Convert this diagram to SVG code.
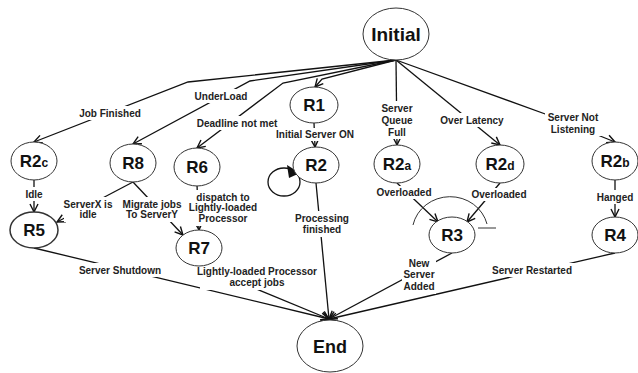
<svg xmlns="http://www.w3.org/2000/svg" width="638" height="373" viewBox="0 0 638 373">
<style>
.node{fill:#fff;stroke:#333;stroke-width:1}
.nt{font-family:"Liberation Sans",Arial,sans-serif;font-weight:bold;font-size:17px;fill:#111;text-anchor:middle}
.sub{font-size:12px}
.el{font-family:"Liberation Sans",Arial,sans-serif;font-weight:bold;font-size:10px;fill:#222;text-anchor:middle}
.c{fill:none;stroke:#111;stroke-width:1.3;marker-end:url(#arr)}
.bg{fill:#fff}
</style>
<defs>
<marker id="arr" markerUnits="userSpaceOnUse" markerWidth="12" markerHeight="12" refX="9" refY="5" orient="auto">
<path d="M1,1 L9,5 L1,9" fill="none" stroke="#111" stroke-width="1.4"/>
</marker>
</defs>
<g id="connectors">
<path class="c" d="M396,60 L188,82 L34,142"/>
<path class="c" d="M396,60 L250,81 L133,144"/>
<path class="c" d="M396,60 L283,83 L197,148"/>
<path class="c" d="M396,60 L322,79 L315,87"/>
<path class="c" d="M396,60 L397,145"/>
<path class="c" d="M396,60 L500,145"/>
<path class="c" d="M396,60 L548,115 L615,142"/>
<path class="c" d="M314,123 L315,147"/>
<path class="c" d="M316,183 L329,319"/>
<path class="c" d="M34,180 L34,212"/>
<path class="c" d="M133,182 L57,222"/>
<path class="c" d="M133,182 L183,235"/>
<path class="c" d="M197,185 L199,230"/>
<path class="c" d="M201,266 L329,319"/>
<path class="c" d="M34,248 L329,319"/>
<path class="c" d="M397,183 L438,222"/>
<path class="c" d="M500,183 L467,222"/>
<path class="c" d="M615,180 L615,217"/>
<path class="c" d="M452,253 L329,319"/>
<path class="c" d="M615,253 L329,319"/>
<ellipse cx="284" cy="182" rx="16" ry="14" fill="none" stroke="#111" stroke-width="1.3"/>
<path d="M287,165 L300,173 L289,178 Z" fill="#111"/>
<path d="M413,225 A38,36 0 0 1 487,224" fill="none" stroke="#333" stroke-width="1"/>
<path d="M478,228 L496,228" fill="none" stroke="#333" stroke-width="1"/>
</g>
<g id="label-bg">
<rect class="bg" x="78" y="106" width="64" height="14"/>
<rect class="bg" x="192" y="89" width="58" height="14"/>
<rect class="bg" x="192" y="116" width="90" height="14"/>
<rect class="bg" x="271" y="128" width="88" height="13"/>
<rect class="bg" x="378" y="101" width="38" height="38"/>
<rect class="bg" x="437" y="113" width="70" height="14"/>
<rect class="bg" x="545" y="110" width="58" height="26"/>
<rect class="bg" x="24" y="187" width="20" height="14"/>
<rect class="bg" x="64" y="197" width="50" height="25"/>
<rect class="bg" x="121" y="197" width="62" height="25"/>
<rect class="bg" x="189" y="190" width="68" height="36"/>
<rect class="bg" x="294" y="211" width="56" height="26"/>
<rect class="bg" x="375" y="186" width="58" height="13"/>
<rect class="bg" x="470" y="188" width="58" height="13"/>
<rect class="bg" x="597" y="190" width="36" height="14"/>
<rect class="bg" x="402" y="256" width="34" height="38"/>
<rect class="bg" x="74" y="263" width="92" height="14"/>
<rect class="bg" x="200" y="264" width="116" height="26"/>
<rect class="bg" x="488" y="263" width="88" height="14"/>
</g>
<g id="edge-labels">
<text class="el" x="110" y="117">Job Finished</text>
<text class="el" x="221" y="100">UnderLoad</text>
<text class="el" x="237" y="127">Deadline not met</text>
<text class="el" x="315" y="138">Initial Server ON</text>
<text class="el" x="397" y="112">Server</text>
<text class="el" x="397" y="124">Queue</text>
<text class="el" x="397" y="136">Full</text>
<text class="el" x="472" y="124">Over Latency</text>
<text class="el" x="573" y="121">Server Not</text>
<text class="el" x="573" y="133">Listening</text>
<text class="el" x="34" y="198">Idle</text>
<text class="el" x="88" y="208">ServerX is</text>
<text class="el" x="88" y="218">idle</text>
<text class="el" x="152" y="208">Migrate jobs</text>
<text class="el" x="152" y="218">To ServerY</text>
<text class="el" x="223" y="201">dispatch to</text>
<text class="el" x="223" y="211">Lightly-loaded</text>
<text class="el" x="223" y="222">Processor</text>
<text class="el" x="322" y="222">Processing</text>
<text class="el" x="322" y="233">finished</text>
<text class="el" x="404" y="196">Overloaded</text>
<text class="el" x="499" y="198">Overloaded</text>
<text class="el" x="615" y="201">Hanged</text>
<text class="el" x="419" y="267">New</text>
<text class="el" x="419" y="278">Server</text>
<text class="el" x="419" y="290">Added</text>
<text class="el" x="120" y="274">Server Shutdown</text>
<text class="el" x="257" y="275">Lightly-loaded Processor</text>
<text class="el" x="257" y="286">accept jobs</text>
<text class="el" x="532" y="274">Server Restarted</text>
</g>
<g id="Initial"><ellipse class="node" cx="396" cy="34" rx="33" ry="26"/><text class="nt" x="396" y="41" style="font-size:19px">Initial</text></g>
<g id="R1"><ellipse class="node" cx="314" cy="105" rx="24" ry="18"/><text class="nt" x="314" y="111">R1</text></g>
<g id="R2"><ellipse class="node" cx="316" cy="165" rx="23" ry="18"/><text class="nt" x="316" y="171">R2</text></g>
<g id="R2a"><ellipse class="node" cx="397" cy="164" rx="23" ry="19"/><text class="nt" x="397" y="170">R2<tspan class="sub">a</tspan></text></g>
<g id="R2d"><ellipse class="node" cx="500" cy="164" rx="24" ry="19"/><text class="nt" x="500" y="170">R2<tspan class="sub">d</tspan></text></g>
<g id="R2b"><ellipse class="node" cx="615" cy="161" rx="23" ry="19"/><text class="nt" x="615" y="167">R2<tspan class="sub">b</tspan></text></g>
<g id="R2c"><ellipse class="node" cx="34" cy="161" rx="23" ry="19"/><text class="nt" x="34" y="167">R2<tspan class="sub">c</tspan></text></g>
<g id="R8"><ellipse class="node" cx="133" cy="163" rx="23" ry="19"/><text class="nt" x="133" y="169">R8</text></g>
<g id="R6"><ellipse class="node" cx="197" cy="167" rx="23" ry="19"/><text class="nt" x="197" y="173">R6</text></g>
<g id="R5"><ellipse class="node" cx="34" cy="230" rx="24" ry="18" style="stroke-width:1.5"/><text class="nt" x="34" y="236">R5</text></g>
<g id="R7"><ellipse class="node" cx="199" cy="248" rx="23" ry="18"/><text class="nt" x="199" y="254">R7</text></g>
<g id="R3"><ellipse class="node" cx="452" cy="235" rx="23" ry="18"/><text class="nt" x="452" y="241">R3</text></g>
<g id="R4"><ellipse class="node" cx="615" cy="235" rx="23" ry="18"/><text class="nt" x="615" y="241">R4</text></g>
<g id="End"><ellipse class="node" cx="330" cy="346" rx="33" ry="26"/><text class="nt" x="330" y="353" style="font-size:18px">End</text></g>
</svg>
